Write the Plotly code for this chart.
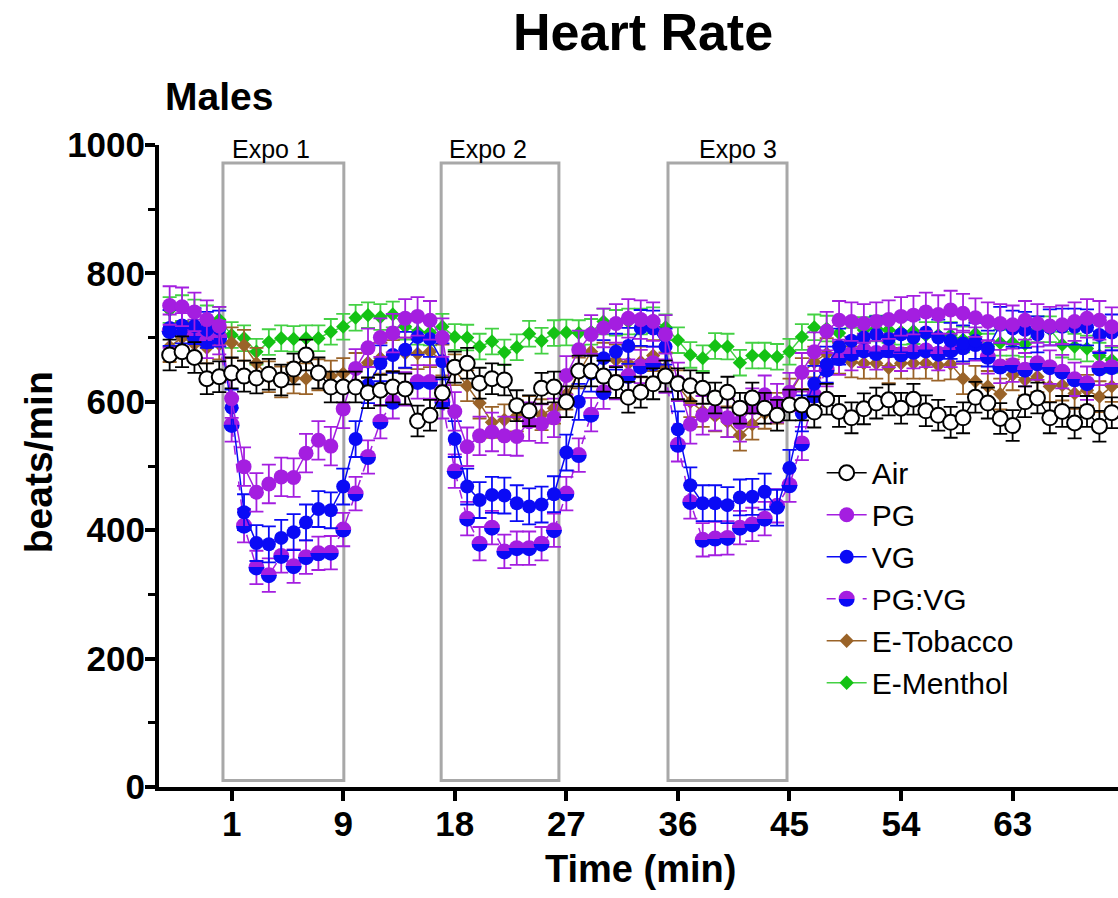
import plotly.graph_objects as go

# ---- data -------------------------------------------------------------
minutes = list(range(-5, 72))
tick_minutes = [0, 9, 18, 27, 36, 45, 54, 63]
tick_labels = ["1", "9", "18", "27", "36", "45", "54", "63"]

air = [673, 678, 669, 636, 639,
       645, 640, 637, 643, 634, 651, 673, 645, 623, 623,
       623, 614, 618, 623, 620, 570, 579, 614, 654, 660,
       629, 636, 634, 594, 586, 621, 623, 600, 648, 648,
       640, 630, 607, 615, 628, 640, 628, 625, 621, 606,
       615, 590, 606, 590, 579, 595, 595, 584, 604, 585,
       575, 589, 598, 603, 590, 604, 586, 579, 568, 575,
       607, 598, 574, 563, 600, 606, 575, 585, 567, 585,
       562, 583]

pg = [750, 748, 740, 728, 718,
      605, 499, 459, 472, 483, 482, 520, 540, 531, 589,
      652, 684, 700, 707, 730, 733, 727, 700, 585, 530,
      547, 553, 547, 546, 569, 566, 575, 641, 681, 705,
      715, 722, 730, 728, 725, 705, 631, 565, 579, 585,
      575, 568, 591, 611, 598, 615, 646, 678, 710, 727,
      725, 722, 725, 728, 733, 735, 740, 736, 743, 738,
      731, 725, 722, 720, 727, 722, 718, 720, 725, 730,
      727, 717]

vg = [715, 719, 718, 712, 714,
      591, 428, 380, 378, 388, 397, 412, 433, 431, 468,
      542, 626, 660, 673, 681, 701, 698, 663, 542, 468,
      447, 455, 454, 442, 437, 440, 456, 521, 600, 644,
      668, 678, 687, 715, 714, 686, 557, 470, 442, 442,
      439, 451, 452, 460, 435, 497, 582, 628, 658, 686,
      695, 700, 705, 698, 705, 700, 708, 700, 695, 691,
      695, 683, 720, 714, 712, 705, 716, 717, 717, 716,
      704, 708]

pg_vg = [710, 712, 702, 694, 700,
         564, 407, 342, 330, 360, 344, 358, 364, 365, 401,
         457, 514, 569, 600, 620, 631, 631, 600, 492, 418,
         379, 404, 367, 372, 372, 379, 400, 457, 517, 580,
         615, 630, 640, 655, 660, 640, 533, 444, 385, 387,
         388, 404, 409, 418, 438, 470, 535, 610, 650, 668,
         675, 680, 676, 680, 674, 678, 680, 675, 680, 685,
         690, 670, 655, 657, 650, 660, 654, 647, 635, 629,
         652, 654]

e_tobacco = [686, 700, 690, 684, 690,
             692, 688, 660, 639, 631, 637, 636, 642, 640, 644,
             652, 661, 668, 672, 676, 675, 678, 665, 650, 625,
             598, 568, 572, 578, 585, 580, 590, 612, 645, 678,
             668, 665, 660, 662, 672, 653, 625, 600, 585, 578,
             569, 548, 565, 582, 590, 612, 644, 662, 675, 668,
             662, 660, 660, 653, 660, 660, 660, 657, 659, 636,
             632, 624, 612, 642, 634, 639, 624, 626, 613, 618,
             608, 624]

e_menthol = [743, 746, 739, 730, 728,
             704, 699, 678, 693, 699, 698, 699, 699, 709, 717,
             731, 735, 732, 736, 717, 709, 708, 717, 701, 700,
             686, 694, 677, 685, 706, 695, 707, 708, 707, 709,
             725, 723, 725, 725, 727, 716, 696, 673, 668, 687,
             686, 661, 672, 672, 670, 678, 701, 716, 714, 707,
             695, 712, 714, 712, 709, 710, 704, 704, 704, 697,
             706, 686, 692, 692, 690, 713, 713, 689, 686, 683,
             672, 665]

# typical SEM of each group (beats/min)
sem_air = 24
sem_pg = 30
sem_vg = 28
sem_pg_vg = 26
sem_tobacco = 24
sem_menthol = 20

# exposure windows (min) and their labels
expo_names = ["Expo 1", "Expo 2", "Expo 3"]
expo_start = [-0.7, 16.9, 35.2]
expo_end = [9.05, 26.4, 44.8]

# ---- styling ----------------------------------------------------------
FONT = "Liberation Sans, Arial, sans-serif"
PURPLE = "#a41ee0"
BLUE = "#0a0af5"
GREEN = "#14c214"
GREEN_LINE = "#44d144"
BROWN = "#9a6328"
BOX_GRAY = "#a8a8a8"

fig = go.Figure()


def add_group(name, values, sem, marker, line_color, dash="solid", bar_color=None):
    fig.add_trace(go.Scatter(
        x=minutes, y=values, name=name, mode="lines+markers",
        line=dict(color=line_color, width=1.5, dash=dash),
        marker=marker,
        error_y=dict(type="constant", value=sem, color=bar_color or line_color,
                     thickness=1.8, width=7),
    ))


# drawn back to front; legend lists them in reverse
add_group("E-Menthol", e_menthol, sem_menthol,
          dict(symbol="diamond", size=11, color=GREEN, line=dict(width=0)),
          GREEN_LINE)
add_group("E-Tobacco", e_tobacco, sem_tobacco,
          dict(symbol="diamond", size=11, color=BROWN, line=dict(width=0)),
          BROWN)
add_group("PG:VG", pg_vg, sem_pg_vg,
          dict(symbol="circle", size=16, color=PURPLE, line=dict(width=0),
               gradient=dict(type="vertical", color=BLUE)),
          PURPLE, dash="dash")
add_group("VG", vg, sem_vg,
          dict(symbol="circle", size=14, color=BLUE, line=dict(width=0)),
          BLUE)
add_group("PG", pg, sem_pg,
          dict(symbol="circle", size=15, color=PURPLE, line=dict(width=0)),
          PURPLE)
add_group("Air", air, sem_air,
          dict(symbol="circle", size=15, color="white", line=dict(color="black", width=2)),
          "black")

# exposure boxes
label_x = [-0.15, 17.4, 37.5]
for name, x0, x1, lx in zip(expo_names, expo_start, expo_end, label_x):
    fig.add_shape(type="rect", x0=x0, x1=x1, y0=10, y1=972, xref="x", yref="y",
                  line=dict(color=BOX_GRAY, width=3), fillcolor="rgba(0,0,0,0)",
                  layer="below")
    fig.add_annotation(x=lx, y=972, xref="x", yref="y", text=name, showarrow=False,
                       xanchor="left", yanchor="bottom", yshift=-2,
                       font=dict(family=FONT, size=25, color="black"))

axis_common = dict(
    showline=True, linewidth=4, linecolor="black", mirror=False,
    showgrid=False, zeroline=False,
    ticks="outside", ticklen=10, tickwidth=4, tickcolor="black",
    tickfont=dict(family=FONT, size=35, color="black", weight="bold"),
)

fig.update_layout(
    width=1118, height=898,
    margin=dict(l=159, r=0, t=145, b=111),
    paper_bgcolor="white", plot_bgcolor="white",
    showlegend=True,
    legend=dict(
        traceorder="reversed", x=0.691, y=0.53, xanchor="left", yanchor="top",
        font=dict(family=FONT, size=30, color="black"),
        bgcolor="rgba(0,0,0,0)", borderwidth=0, itemwidth=40,
    ),
    xaxis=dict(range=[-5.86, 71.5], tickmode="array", tickvals=tick_minutes,
               ticktext=tick_labels, ticklabelstandoff=-7, **axis_common),
    yaxis=dict(range=[0, 1000], tickmode="linear", tick0=0, dtick=200,
               ticklabelstandoff=-7,
               minor=dict(ticks="outside", ticklen=7, tickwidth=3, tickcolor="black",
                          dtick=100, tick0=0, showgrid=False),
               **axis_common),
    annotations=list(fig.layout.annotations) + [
        dict(text="<b>Heart Rate</b>", x=0.5047, y=1.176, xref="paper", yref="paper",
             showarrow=False, xanchor="center", yanchor="middle",
             font=dict(family=FONT, size=52, color="black")),
        dict(text="<b>Males</b>", x=0.004, y=1.075, xref="paper", yref="paper",
             showarrow=False, xanchor="left", yanchor="middle",
             font=dict(family=FONT, size=39, color="black")),
        dict(text="<b>beats/min</b>", x=-0.126, y=0.506, xref="paper", yref="paper",
             showarrow=False, xanchor="center", yanchor="middle", textangle=-90,
             font=dict(family=FONT, size=39, color="black")),
        dict(text="<b>Time (min)</b>", x=0.5026, y=-0.128, xref="paper", yref="paper",
             showarrow=False, xanchor="center", yanchor="middle",
             font=dict(family=FONT, size=38, color="black")),
    ],
)

# PG:VG markers are split half purple / half blue: make the gradient a hard edge
split_markers = """
document.querySelectorAll('linearGradient').forEach(function (g) {
  var stops = g.querySelectorAll('stop');
  if (stops.length === 2) {
    stops[0].setAttribute('offset', '50%');
    stops[1].setAttribute('offset', '50%');
  }
});
"""

fig.write_html("out.html", post_script=split_markers)
